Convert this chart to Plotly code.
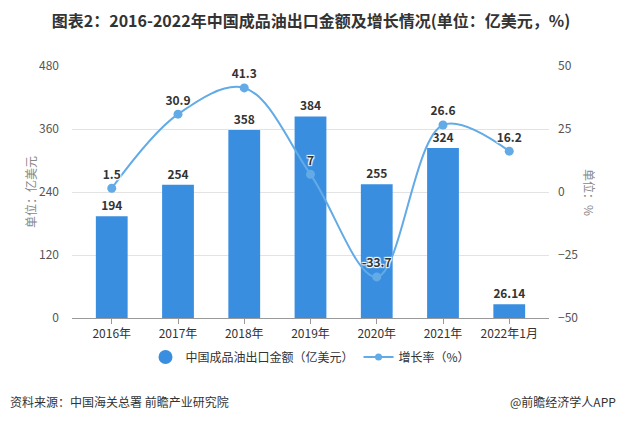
import plotly.graph_objects as go

categories = ["2016年", "2017年", "2018年", "2019年", "2020年", "2021年", "2022年1月"]
export_value = [194, 254, 358, 384, 255, 324, 26.14]
growth_rate = [1.5, 30.9, 41.3, 7, -33.7, 26.6, 16.2]
bar_labels = ["194", "254", "358", "384", "255", "324", "26.14"]
rate_labels = ["1.5", "30.9", "41.3", "7", "-33.7", "26.6", "16.2"]

FONT = "Noto Sans CJK SC, Microsoft YaHei, sans-serif"
BAR_COLOR = "#3a8ee0"
LINE_COLOR = "#62abe6"
halo = "1px 1px 1px white, -1px -1px 1px white, 1px -1px 1px white, -1px 1px 1px white"

fig = go.Figure()
fig.add_trace(go.Bar(
    x=categories, y=export_value, width=0.48,
    marker=dict(color=BAR_COLOR, line=dict(width=0)),
    text=bar_labels, textposition="outside", cliponaxis=False,
    textfont=dict(family=FONT, size=12, color="#333333", weight="bold"),
    showlegend=False, yaxis="y",
))
fig.add_trace(go.Scatter(
    x=categories, y=growth_rate, mode="lines+markers+text",
    line=dict(color=LINE_COLOR, width=2, shape="spline", smoothing=1.0),
    marker=dict(color=LINE_COLOR, size=9),
    text=rate_labels, textposition="top center", cliponaxis=False,
    textfont=dict(family=FONT, size=12, color="#333333", weight="bold", shadow=halo),
    showlegend=False, yaxis="y2",
))
# legend entries
fig.add_trace(go.Scatter(
    x=[None], y=[None], mode="markers", name="中国成品油出口金额（亿美元）",
    marker=dict(color=BAR_COLOR, size=14, symbol="circle"),
))
fig.add_trace(go.Scatter(
    x=[None], y=[None], mode="lines+markers", name="增长率（%）",
    line=dict(color=LINE_COLOR, width=2), marker=dict(color=LINE_COLOR, size=7),
))

fig.update_layout(
    width=622, height=422,
    margin=dict(l=72, r=73, t=66, b=104),
    paper_bgcolor="white", plot_bgcolor="white",
    font=dict(family=FONT, size=12, color="#666666"),
    bargap=0.5,
    title=dict(
        text="<b>图表2：2016-2022年中国成品油出口金额及增长情况(单位：亿美元，%)</b>",
        x=0.5, xanchor="center", y=0.95, yanchor="middle",
        font=dict(family=FONT, size=16, color="#333333"),
    ),
    xaxis=dict(
        range=[-0.6, 6.6], showgrid=False, showline=True, linecolor="#999999",
        ticks="outside", ticklen=5, tickcolor="#999999",
        tickfont=dict(size=12, color="#333333"),
    ),
    yaxis=dict(
        range=[0, 480], tickvals=[0, 120, 240, 360, 480], showgrid=True,
        gridcolor="#e3e3e3", zeroline=False, ticks="", ticklabelstandoff=12,
        tickfont=dict(size=12, color="#555555"),
    ),
    yaxis2=dict(
        range=[-50, 50], tickvals=[-50, -25, 0, 25, 50], overlaying="y", side="right",
        showgrid=False, zeroline=False, ticks="", ticklabelstandoff=8,
        tickfont=dict(size=12, color="#555555"),
    ),
    legend=dict(
        orientation="h", x=0.5, xanchor="center", y=-0.155, yanchor="middle",
        font=dict(size=12, color="#333333"), itemwidth=30,
    ),
    annotations=[
        dict(text="单位：亿美元", xref="paper", yref="paper", x=-0.088, y=0.5,
             xanchor="center", yanchor="middle",
             textangle=-90, showarrow=False, font=dict(size=12, color="#888888")),
        dict(text="单位：%", xref="paper", yref="paper", x=1.086, y=0.5,
             xanchor="center", yanchor="middle",
             textangle=90, showarrow=False, font=dict(size=12, color="#888888")),
        dict(text="资料来源：中国海关总署 前瞻产业研究院", xref="paper", yref="paper",
             x=-0.134, y=-0.33, xanchor="left", yanchor="middle", showarrow=False,
             font=dict(size=12, color="#333333")),
        dict(text="@前瞻经济学人APP", xref="paper", yref="paper",
             x=1.145, y=-0.33, xanchor="right", yanchor="middle", showarrow=False,
             font=dict(size=12, color="#333333")),
    ],
)

fig.write_html("out.html")
